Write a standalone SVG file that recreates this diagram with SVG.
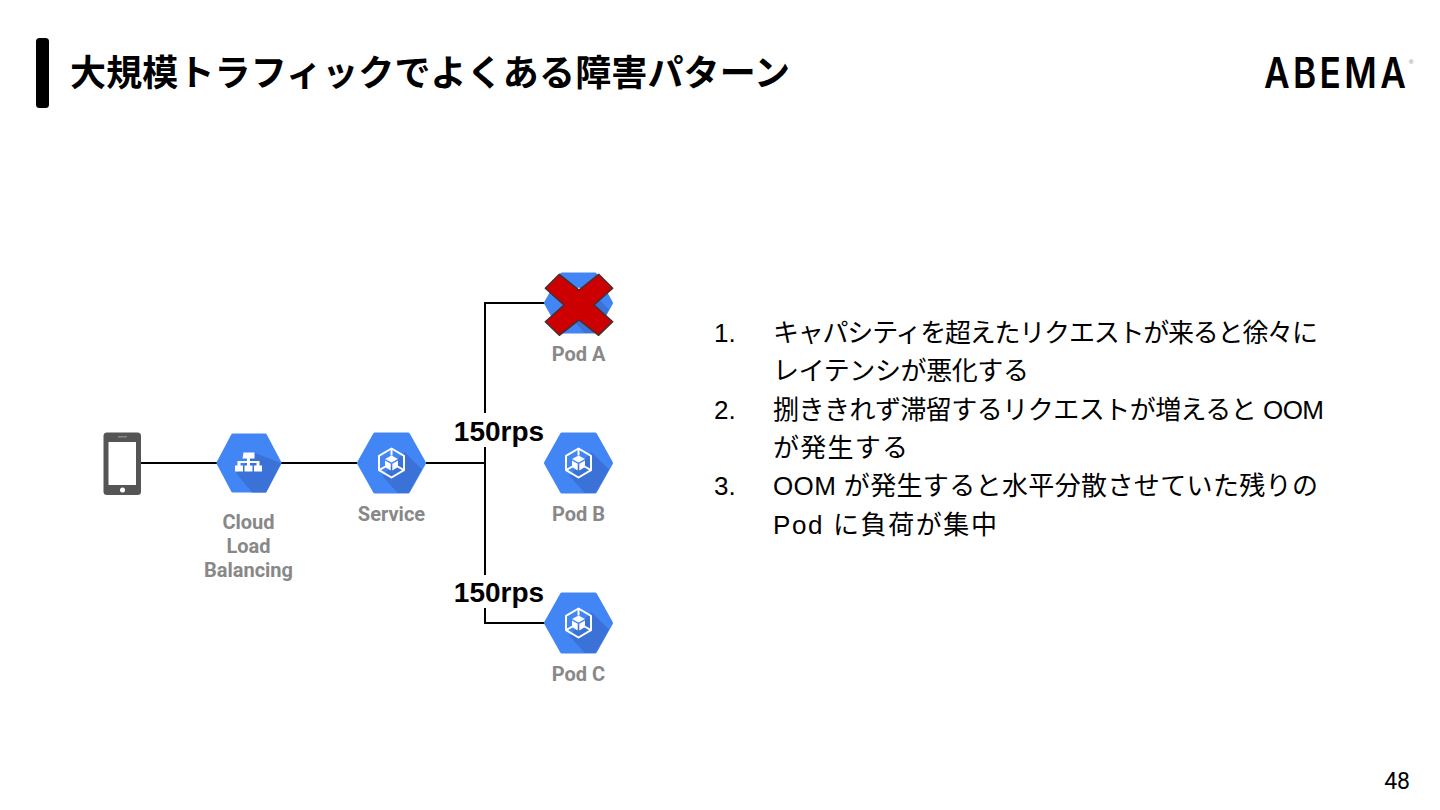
<svg xmlns="http://www.w3.org/2000/svg" xmlns:xlink="http://www.w3.org/1999/xlink" width="1440" height="810" viewBox="0 0 1440 810">
<style>
.title{font:700 36px "Noto Sans CJK JP",sans-serif;fill:#000}
.body{font:400 26px "Liberation Sans","Noto Sans CJK JP",sans-serif;fill:#000}
.lbl{font:700 20px Roboto,"Liberation Sans",sans-serif;fill:#888;text-anchor:middle}
.rps{font:700 28px "Liberation Sans",sans-serif;fill:#000;text-anchor:middle}
.conn{fill:none;stroke:#000;stroke-width:2}
.hex{fill:#4285f4;stroke:#4285f4;stroke-width:4;stroke-linejoin:round}
.sh{fill:#3a72d8}
.ic{fill:none;stroke:#fff;stroke-width:2;stroke-linejoin:round}
</style>
<defs>
<clipPath id="hc"><polygon points="-34,0 -17,-30 17,-30 34,0 17,30 -17,30"/></clipPath>
<g id="kube">
<polygon class="hex" points="-32.500,0 -16.500,-28.500 16.500,-28.500 32.500,0 16.500,28.500 -16.500,28.500"/>
<polygon class="sh" clip-path="url(#hc)" points="-9,13 13,-11 40,16 40,32 8,32"/>
<polygon class="ic" points="0,-14.500 12.500,-7.200 12.500,7.200 0,14.500 -12.500,7.200 -12.500,-7.200"/>
<path class="ic" d="M0,-14.500V-7.500M12.500,7.200L6,3.500M-12.500,7.200L-6,3.500"/>
<polygon fill="#fff" points="0,-7.500 6.500,-4 0,-0.500 -6.500,-4"/>
<polygon fill="#fff" points="-6.500,-2.500 -0.800,0.800 -0.800,7.500 -6.500,4"/>
<polygon fill="#fff" points="6.500,-2.500 0.800,0.800 0.800,7.500 6.500,4"/>
</g>
</defs>

<g id="title">
<rect x="36" y="38" width="13" height="70" rx="3.500" fill="#000"/>
<text class="title" x="70" y="86" textLength="720" lengthAdjust="spacing">大規模トラフィックでよくある障害パターン</text>
</g>

<g id="logo">
<text transform="translate(1264 88) scale(.82 1)" x="0" y="0" font-family="Inter,'Liberation Sans',sans-serif" font-weight="600" font-size="43" textLength="173" lengthAdjust="spacing" fill="#000">ABEMA</text>
<text x="1409" y="64" font-family="'Liberation Sans',sans-serif" font-size="6" fill="#777">®</text>
</g>

<g id="connectors">
<path class="conn" d="M141,463H217M281,463H357M426,463H485M545,303H485V623H545"/>
</g>

<g id="phone">
<rect x="103.500" y="432.500" width="37.500" height="62.500" rx="3.500" fill="#555"/>
<rect x="108.500" y="442" width="27.500" height="43" fill="#fff"/>
<rect x="118" y="436" width="9" height="1.500" fill="#888"/>
<circle cx="122.500" cy="490" r="2.500" fill="#fff"/>
</g>

<g id="clb">
<polygon class="hex" points="218.500,463 233,435.500 265,435.500 279.500,463 265,490.500 233,490.500"/>
<polygon class="sh" points="236,473 255,453 281,463 266,492.500 252,492.500"/>
<path fill="#fff" d="M243.500,452.500h11v6h-4.500v2.500h9.500v4.500h2.500v6h-8v-6h2.500v-2.500h-6.500v2.500h2.500v6h-8v-6h2.500v-2.500h-6.500v2.500h2.500v6h-8v-6h2.500v-4.500h9.500v-2.500h-4.500z"/>
<text class="lbl" x="248.500" y="529">Cloud</text>
<text class="lbl" x="248.500" y="553">Load</text>
<text class="lbl" x="248.500" y="577">Balancing</text>
</g>

<g id="service">
<use xlink:href="#kube" href="#kube" transform="translate(391.500 463)"/>
<text class="lbl" x="391.500" y="521">Service</text>
</g>

<g id="pod-a">
<use xlink:href="#kube" href="#kube" transform="translate(578.500 303)"/>
<polygon fill="#c00" stroke="#453030" stroke-width="1.500" stroke-linejoin="round" points="545.300,288.300 559.300,274.300 579,290 598.700,274.300 612.700,288.300 594,305 612.700,321.700 598.700,335.300 579,320 559.300,335.300 545.300,321.700 564,305"/>
<text class="lbl" x="578.500" y="361">Pod A</text>
</g>

<g id="pod-b">
<use xlink:href="#kube" href="#kube" transform="translate(578.500 463)"/>
<text class="lbl" x="578.500" y="521">Pod B</text>
</g>

<g id="pod-c">
<use xlink:href="#kube" href="#kube" transform="translate(578.500 623)"/>
<text class="lbl" x="578.500" y="681">Pod C</text>
</g>

<g id="rps-1">
<rect x="455" y="413" width="89" height="34" fill="#fff"/>
<text class="rps" x="499" y="441">150rps</text>
</g>
<g id="rps-2">
<rect x="455" y="575" width="89" height="33" fill="#fff"/>
<text class="rps" x="499" y="602">150rps</text>
</g>

<g id="list">
<text class="body" x="714" y="342">1.</text>
<text class="body" x="773" y="342" textLength="545">キャパシティを超えたリクエストが来ると徐々に</text>
<text class="body" x="773" y="380" textLength="256">レイテンシが悪化する</text>
<text class="body" x="714" y="419">2.</text>
<text class="body" x="773" y="419" textLength="551">捌ききれず滞留するリクエストが増えると OOM</text>
<text class="body" x="773" y="457" textLength="135">が発生する</text>
<text class="body" x="714" y="495">3.</text>
<text class="body" x="773" y="495" textLength="545">OOM が発生すると水平分散させていた残りの</text>
<text class="body" x="773" y="534" textLength="224">Pod に負荷が集中</text>
</g>

<text id="page" x="1410" y="789" text-anchor="end" font-family="Roboto,'Liberation Sans',sans-serif" font-size="23" fill="#000">48</text>
</svg>
